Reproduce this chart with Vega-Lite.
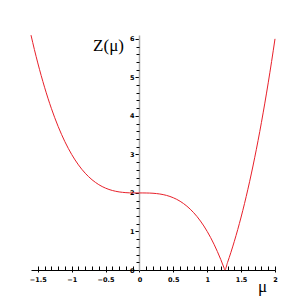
{
  "$schema": "https://vega.github.io/schema/vega-lite/v6.json",
  "width": 244,
  "height": 235,
  "autosize": {"type": "none"},
  "padding": {"left": 31, "top": 35, "right": 32, "bottom": 37},
  "background": "white",
  "config": {"view": {"stroke": null}},
  "data": {"values": [
    {"mu": -1.6, "z": 6.096}, {"mu": -1.55, "z": 5.724}, {"mu": -1.5, "z": 5.375}, {"mu": -1.45, "z": 5.049},
    {"mu": -1.4, "z": 4.744}, {"mu": -1.35, "z": 4.460}, {"mu": -1.3, "z": 4.197}, {"mu": -1.25, "z": 3.953},
    {"mu": -1.2, "z": 3.728}, {"mu": -1.15, "z": 3.521}, {"mu": -1.1, "z": 3.331}, {"mu": -1.05, "z": 3.158},
    {"mu": -1.0, "z": 3.0}, {"mu": -0.95, "z": 2.857}, {"mu": -0.9, "z": 2.729}, {"mu": -0.85, "z": 2.614},
    {"mu": -0.8, "z": 2.512}, {"mu": -0.75, "z": 2.422}, {"mu": -0.7, "z": 2.343}, {"mu": -0.65, "z": 2.275},
    {"mu": -0.6, "z": 2.216}, {"mu": -0.55, "z": 2.166}, {"mu": -0.5, "z": 2.125}, {"mu": -0.45, "z": 2.091},
    {"mu": -0.4, "z": 2.064}, {"mu": -0.35, "z": 2.043}, {"mu": -0.3, "z": 2.027}, {"mu": -0.25, "z": 2.016},
    {"mu": -0.2, "z": 2.008}, {"mu": -0.15, "z": 2.003}, {"mu": -0.1, "z": 2.001}, {"mu": -0.05, "z": 2.0},
    {"mu": 0.0, "z": 2.0}, {"mu": 0.05, "z": 2.0}, {"mu": 0.1, "z": 1.999}, {"mu": 0.15, "z": 1.997},
    {"mu": 0.2, "z": 1.992}, {"mu": 0.25, "z": 1.984}, {"mu": 0.3, "z": 1.973}, {"mu": 0.35, "z": 1.957},
    {"mu": 0.4, "z": 1.936}, {"mu": 0.45, "z": 1.909}, {"mu": 0.5, "z": 1.875}, {"mu": 0.55, "z": 1.834},
    {"mu": 0.6, "z": 1.784}, {"mu": 0.65, "z": 1.725}, {"mu": 0.7, "z": 1.657}, {"mu": 0.75, "z": 1.578},
    {"mu": 0.8, "z": 1.488}, {"mu": 0.85, "z": 1.386}, {"mu": 0.9, "z": 1.271}, {"mu": 0.95, "z": 1.143},
    {"mu": 1.0, "z": 1.0}, {"mu": 1.05, "z": 0.842}, {"mu": 1.1, "z": 0.669}, {"mu": 1.15, "z": 0.479},
    {"mu": 1.2, "z": 0.272}, {"mu": 1.25, "z": 0.047}, {"mu": 1.26, "z": 0.0}, {"mu": 1.3, "z": 0.197},
    {"mu": 1.35, "z": 0.460}, {"mu": 1.4, "z": 0.744}, {"mu": 1.45, "z": 1.049}, {"mu": 1.5, "z": 1.375},
    {"mu": 1.55, "z": 1.724}, {"mu": 1.6, "z": 2.096}, {"mu": 1.65, "z": 2.492}, {"mu": 1.7, "z": 2.913},
    {"mu": 1.75, "z": 3.359}, {"mu": 1.8, "z": 3.832}, {"mu": 1.85, "z": 4.332}, {"mu": 1.9, "z": 4.859},
    {"mu": 1.95, "z": 5.415}, {"mu": 2.0, "z": 6.0}
  ]},
  "layer": [
    {
      "mark": {"type": "line", "color": "#e8202a", "strokeWidth": 1, "interpolate": "monotone"},
      "encoding": {
        "x": {"field": "mu", "type": "quantitative",
          "scale": {"domain": [-1.6, 2], "nice": false, "zero": false},
          "axis": {"orient": "bottom", "values": [-1.5, -1, -0.5, 0, 0.5, 1, 1.5, 2], "format": "~g", "grid": false,
            "domainColor": "#000", "domainWidth": 1.2, "tickColor": "#000", "tickSize": 2,
            "labelFont": "DejaVu Sans", "labelFontSize": 6.5, "labelFontWeight": "bold", "labelColor": "#000",
            "labelPadding": 4, "labelFlush": false, "labelOverlap": false,
            "title": "μ", "titleFont": "Liberation Serif", "titleFontSize": 17, "titleFontWeight": "normal",
            "titleColor": "#000", "titleX": 231, "titleY": 21, "titleAlign": "center", "titleBaseline": "alphabetic"}},
        "y": {"field": "z", "type": "quantitative",
          "scale": {"domain": [0, 6.1], "nice": false},
          "axis": {"orient": "left", "values": [0, 1, 2, 3, 4, 5, 6], "grid": false, "offset": -108,
            "domainColor": "#aaaaaa", "domainWidth": 1.5, "tickColor": "#000", "tickSize": 4,
            "labelFont": "DejaVu Sans", "labelFontSize": 6.5, "labelFontWeight": "bold", "labelColor": "#000",
            "labelPadding": 1, "labelFlush": false, "labelOverlap": false,
            "title": "Z(μ)", "titleFont": "Liberation Serif", "titleFontSize": 17, "titleFontWeight": "normal",
            "titleColor": "#000", "titleAngle": 0, "titleX": -31, "titleY": 15, "titleAlign": "center", "titleBaseline": "alphabetic"}}
      }
    },
    {
      "mark": {"type": "line", "opacity": 0},
      "encoding": {
        "x": {"field": "mu", "type": "quantitative",
          "axis": {"orient": "bottom", "values": [-1.5, -1.4, -1.3, -1.2, -1.1, -1, -0.9, -0.8, -0.7, -0.6, -0.5, -0.4, -0.3, -0.2, -0.1, 0, 0.1, 0.2, 0.3, 0.4, 0.5, 0.6, 0.7, 0.8, 0.9, 1, 1.1, 1.2, 1.3, 1.4, 1.5, 1.6, 1.7, 1.8, 1.9, 2],
            "labels": false, "domain": false, "grid": false, "tickColor": "#000", "tickSize": -4, "title": null}},
        "y": {"field": "z", "type": "quantitative",
          "axis": {"orient": "left", "values": [0.2, 0.4, 0.6, 0.8, 1.2, 1.4, 1.6, 1.8, 2.2, 2.4, 2.6, 2.8, 3.2, 3.4, 3.6, 3.8, 4.2, 4.4, 4.6, 4.8, 5.2, 5.4, 5.6, 5.8],
            "offset": -108, "labels": false, "domain": false, "grid": false, "tickColor": "#000", "tickSize": 3, "title": null}}
      }
    }
  ],
  "resolve": {"axis": {"x": "independent", "y": "independent"}}
}
